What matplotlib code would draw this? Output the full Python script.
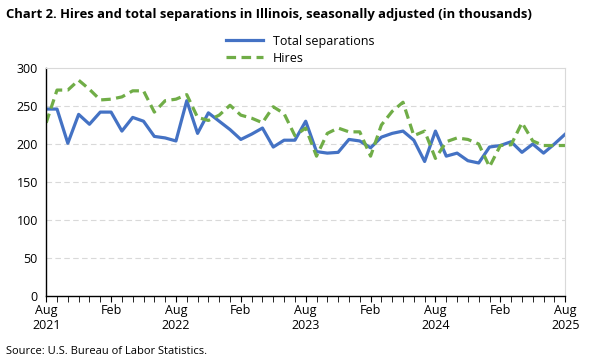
import matplotlib
matplotlib.use("Agg")
import matplotlib.pyplot as plt
import numpy as np

# monthly values, Aug 2021 .. Aug 2025 (in thousands)
separations = [246, 246, 201, 239, 226, 242, 242, 217, 235, 230, 210, 208, 204,
               257, 214, 241, 230, 219, 206, 213, 221, 196, 205, 205, 230,
               190, 188, 189, 206, 204, 195, 209, 214, 217, 205, 177, 217,
               184, 188, 178, 175, 196, 198, 203, 189, 200, 188, 200, 213]
hires = [228, 271, 271, 284, 272, 258, 259, 262, 270, 270, 242, 257, 259,
         265, 235, 231, 238, 251, 238, 234, 228, 249, 240, 211, 221,
         184, 214, 221, 216, 216, 184, 225, 243, 255, 211, 217, 181,
         203, 208, 206, 200, 170, 198, 199, 228, 204, 198, 198, 198]
tick_labels = ["Aug\n2021", "Feb", "Aug\n2022", "Feb", "Aug\n2023",
               "Feb", "Aug\n2024", "Feb", "Aug\n2025"]

plt.rcParams["font.family"] = ["Open Sans", "DejaVu Sans"]

fig = plt.figure(figsize=(6, 3.6), dpi=100)
ax = fig.add_axes([0.077, 0.178, 0.865, 0.633])

x = np.arange(len(separations))
ax.plot(x, separations, color="#4472C4", lw=2.3, label="Total separations")
ax.plot(x, hires, color="#70AD47", lw=2.3, ls=(0, (3, 1.7)), label="Hires")

ax.set_xlim(0, len(x) - 1)
ax.set_ylim(0, 300)
ax.set_yticks(range(0, 301, 50))
ax.set_xticks(range(0, len(x), 6))
ax.set_xticklabels(tick_labels)
ax.set_xticks(x, minor=True)
ax.tick_params(axis="x", which="both", length=4, color="black", labelsize=9, pad=2)
ax.tick_params(axis="y", length=0, labelsize=9, pad=6)
for yv in range(50, 300, 50):
    ax.axhline(yv, color="#d9d9d9", lw=0.8, ls=(0, (5, 3)), zorder=0)

for s in ["top", "right"]:
    ax.spines[s].set_color("#d9d9d9")
for s in ["left", "bottom"]:
    ax.spines[s].set_color("black")
    ax.spines[s].set_linewidth(1)

fig.text(0.01, 0.96, "Chart 2. Hires and total separations in Illinois, seasonally adjusted (in thousands)",
         fontsize=9.4, fontweight="bold", va="center")
fig.legend(loc="center", bbox_to_anchor=(0.5, 0.862), ncol=1, frameon=False,
           fontsize=9, handlelength=3, labelspacing=0.3, borderpad=0)
fig.text(0.01, 0.025, "Source: U.S. Bureau of Labor Statistics.", fontsize=8, va="center")

fig.savefig("out.png", dpi=100)
